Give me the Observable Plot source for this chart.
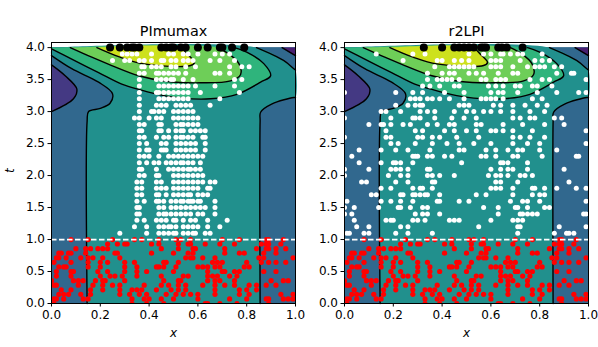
<!DOCTYPE html>
<html><head><meta charset="utf-8">
<script src="https://cdn.jsdelivr.net/npm/d3@7"></script>
<script src="https://cdn.jsdelivr.net/npm/@observablehq/plot@0.6"></script>
<style>html,body{margin:0;padding:0;background:#fff}#c{display:flex;width:598px;height:347px}svg{display:block;background:#fff;overflow:visible}</style>
</head><body><div id="c"></div>
<script>
const titles = ["PImumax", "r2LPI"];
const tickX = [0, .2, .4, .6, .8, 1];
const tickT = [0, .5, 1, 1.5, 2, 2.5, 3, 3.5, 4];
const colors = {blue:"#31688e", dark:"#443983", purple:"#481f70", teal:"#21908d", green:"#2fb47c", light:"#6ece58", yellow:"#cde11d"};

// contour lines, in x,t
const lensX = [0,.056,.104,.09,0], lensT = [3.73,3.56,3.35,3.2,3.0];
const blueLeftX = [.146,.146,.152,.2,.24,.25,.193,.083,0], blueLeftT = [0,2.85,3.0,3.05,3.13,3.28,3.46,3.67,3.875];
const blueRightX = [1,.993,.904,.857,.855,.855], blueRightT = [3.22,3.22,3.12,2.99,2.85,0];
const blueTopX = [.84,.951,.993,1], blueTopT = [4,3.8,3.67,3.65];
const cornerX = [.945,1], cornerT = [4,3.875];
const greenX = [0,.083,.193,.288,.365,.46,.53,.652,.76,.857,.898,.87,.80,.75], greenT = [3.98,3.82,3.61,3.43,3.34,3.25,3.21,3.2,3.27,3.46,3.56,3.75,3.93,4];
const lightX = [.077,.165,.247,.358,.474,.61,.734,.775,.768,.727,.68], lightT = [4,3.85,3.72,3.56,3.47,3.45,3.48,3.58,3.75,3.9,4];
const yellowX = [.186,.281,.378,.57,.586,.556,.53], yellowT = [4,3.85,3.745,3.72,3.77,3.9,4];

// boundary points at t between 0 and 1
const redT = [1,.93,.857,.786,.714,.643,.571,.5,.429,.357,.286,.214,.143,.071,0];
const redX = [
 [.08,.15,.25,.34,.37,.44,.51,.53,.57,.70,.77,.88,.89,.95],
 [.23,.27,.30,.31,.41,.44,.52,.56,.57,.63,.69,.75,.86,.88,.89,.94],
 [.10,.14,.16,.19,.21,.23,.45,.52,.58,.59,.71,.84,.88,.89,.92,.96],
 [.03,.04,.07,.08,.14,.26,.27,.41,.50,.56,.58,.71,.77,.79,.87,.92],
 [.02,.03,.06,.12,.15,.17,.21,.28,.55,.57,.58,.62,.67,.85,.87,.99],
 [.01,.08,.15,.20,.23,.30,.34,.46,.47,.52,.66,.68,.70,.80,.86,.89,.92,.96],
 [.03,.05,.06,.15,.20,.30,.35,.43,.44,.46,.51,.60,.62,.64,.67,.69,.79,.81],
 [.02,.08,.09,.19,.23,.30,.35,.39,.50,.64,.70,.71,.75,.77,.87,.92],
 [.02,.08,.20,.24,.26,.29,.35,.45,.54,.56,.64,.66,.68,.73,.76],
 [0,.09,.11,.13,.18,.21,.22,.30,.46,.52,.53,.64,.67,.69,.75,.90,.95,.97],
 [.01,.02,.11,.17,.21,.25,.28,.38,.45,.48,.52,.55,.62,.67,.71,.75,.81,.84,.88,.92],
 [.04,.08,.16,.21,.28,.33,.35,.37,.43,.49,.52,.55,.67,.77,.80,.84],
 [.03,.05,.07,.12,.16,.28,.32,.36,.39,.47,.51,.54,.57,.60,.67,.77,.81,.94,.99],
 [.01,.02,.05,.13,.15,.33,.38,.40,.45,.50,.60,.73,.80,.88,.89,.95,.97,.99],
 [.01,.33,.39,.46,.63,.64,.69,.76,.89]
];

const whiteT = [1.1,1.2,1.3,1.4,1.5,1.6,1.7,1.8,1.9,2.0,2.1,2.2,2.3,2.4,2.5,2.6,2.7,2.8,2.9,3.0,3.1,3.2,3.3,3.4,3.5,3.6,3.7,3.8,3.9];
const whiteLeftX = [
 [.28,.39,.44,.46,.48,.50,.51,.54,.56,.58,.59,.63,.65],
 [.34,.39,.44,.46,.48,.49,.51,.54,.56,.58,.60,.64,.69],
 [.35,.38,.43,.45,.47,.50,.51,.54,.57,.59,.64,.72],
 [.35,.36,.44,.46,.47,.49,.51,.53,.55,.57,.60,.62,.67],
 [.35,.36,.44,.46,.49,.51,.53,.55,.57,.59,.61,.63,.67],
 [.35,.38,.43,.44,.46,.49,.51,.53,.54,.56,.57,.58,.60,.61,.67],
 [.35,.37,.43,.44,.47,.50,.52,.54,.56,.57,.60,.62,.64],
 [.35,.37,.43,.45,.47,.50,.52,.54,.56,.58,.60,.64,.65],
 [.35,.37,.43,.45,.50,.52,.54,.56,.58,.60,.62,.65,.67],
 [.36,.38,.43,.44,.50,.52,.54,.56,.58,.60,.62],
 [.36,.37,.43,.48,.50,.52,.54,.56,.57,.59,.61],
 [.36,.39,.42,.44,.47,.49,.51,.53,.54,.56,.58,.61],
 [.36,.38,.40,.44,.48,.50,.52,.54,.56,.58,.60,.62],
 [.36,.39,.40,.45,.46,.47,.51,.53,.55,.57,.59,.63],
 [.36,.39,.45,.47,.51,.53,.55,.57,.59,.63],
 [.36,.38,.43,.46,.48,.51,.53,.54,.56,.58,.62,.63],
 [.36,.37,.44,.45,.48,.51,.53,.54,.57,.59,.61,.63],
 [.36,.38,.44,.45,.51,.53,.54,.56,.58,.60],
 [.34,.36,.40,.43,.45,.50,.52,.54,.56,.58,.60],
 [.36,.41,.42,.44,.46,.50,.52,.54,.56,.58],
 [.36,.43,.45,.47,.51,.53,.55,.57,.65],
 [.36,.44,.46,.48,.50,.52,.54,.56,.69],
 [.36,.43,.44,.46,.48,.50,.52,.54,.56,.61,.77],
 [.36,.44,.46,.48,.50,.52,.54,.56,.59,.67,.75],
 [.36,.43,.45,.47,.49,.50,.54,.58,.75,.78],
 [.36,.38,.43,.44,.46,.48,.50,.52,.55,.67,.69,.73],
 [.37,.38,.41,.43,.45,.49,.51,.55,.59,.73,.78,.81],
 [.25,.30,.32,.36,.38,.41,.45,.46,.49,.51,.54,.56,.58,.65,.69,.75],
 [.29,.31,.33,.35,.41,.48,.50,.54,.56,.60,.67,.70,.73]
];
const whiteRightX = [
 [.01,.02,.08,.10,.21,.26,.36,.71,.86,.91,.92,.94],
 [.05,.10,.23,.26,.55,.71,.72,.88,.99],
 [.04,.17,.19,.20,.28,.30,.33,.43,.45,.47,.60,.69,.71,.73],
 [0,.03,.29,.32,.34,.39,.63,.72,.73,.75,.77,.79,.98,.99],
 [0,.04,.14,.22,.23,.27,.32,.34,.57,.63,.70,.71,.75,.82,.84],
 [.01,.15,.19,.23,.28,.38,.39,.47,.51,.68,.73,.75,.80,.99],
 [.11,.13,.23,.24,.28,.29,.31,.33,.34,.39,.54,.58,.69,.77,.80,.82],
 [.15,.19,.28,.31,.32,.36,.60,.62,.64,.69,.77,.78,.82,.87,.95,.99],
 [.07,.09,.21,.26,.36,.37,.62,.64,.71,.92],
 [0,.18,.23,.26,.34,.36,.39,.45,.59,.62,.64,.67,.72,.74,.77],
 [0,.10,.19,.21,.23,.26,.34,.35,.60,.64,.67,.69,.75,.90],
 [.06,.15,.20,.21,.23,.28,.48,.64,.65,.67,.75],
 [.03,.28,.29,.30,.34,.36,.41,.44,.56,.58,.62,.69,.71,.81,.95,.96],
 [.06,.15,.21,.26,.35,.47,.49,.58,.62,.67,.71,.73,.80,.87],
 [.19,.22,.29,.36,.42,.47,.53,.60,.69,.75,.80,.99],
 [.17,.19,.30,.32,.36,.39,.46,.55,.69,.72,.76,.82,0],
 [.17,.29,.32,.41,.45,.50,.54,.60,.62,.65,.69,.77,.99],
 [.10,.15,.16,.19,.24,.27,.34,.38,.43,.45,.54,.56,.65,.73,.82,.90],
 [.19,.28,.29,.31,.37,.44,.49,.54,.69,.72,.76,.78,.86,.89,0],
 [.15,.17,.23,.31,.34,.37,.45,.50,.53,.57,.60,.64,.69,.76,.82],
 [.21,.26,.29,.31,.32,.47,.49,.51,.61,.64,.69,.74,.79,.83],
 [.27,.29,.31,.34,.36,.39,.43,.49,.56,.58,.60,.62,.65,.77,.81],
 [.21,.28,.32,.41,.49,.60,.63,.65,.71,.79,.87,.96,.99,0],
 [.32,.35,.39,.45,.47,.59,.62,.65,.70,.72,.77,.79,.85],
 [.34,.38,.40,.42,.44,.47,.56,.58,.62,.64,.66,.76,.81,.84,.99],
 [.34,.40,.43,.45,.51,.54,.57,.63,.69,.71,.87,.93,.94],
 [.37,.43,.45,.47,.49,.51,.53,.60,.62,.64,.69,.75,.78,.80,.82,.86,.89],
 [.24,.38,.40,.45,.48,.51,.60,.62,.64,.72,.78,.81,.84],
 [.13,.28,.33,.51,.57,.60,.64,.65,.68,.71,.73,.81]
];
const blackLeftX = [.24,.28,.31,.33,.34,.36,.45,.47,.49,.50,.53,.55,.60,.64,.69,.70,.74,.79];
const blackRightX = [.325,.40,.45,.47,.49,.51,.53,.56,.57,.58,.63,.645,.665,.73];

const pts = (xs, ts) => xs.map((x, i) => ({x, t: ts[i]}));
const rows = (ts, xs) => ts.flatMap((t, i) => xs[i].map(x => ({x, t})));
const lineOpts = {x:"x", y:"t", stroke:"#000", strokeWidth:1.4, curve:"catmull-rom"};
const shape = (points, fill) => Plot.line(points, {x:"x", y:"t", fill, stroke:"none", curve:"catmull-rom"});
const dup = p => [p, p, p];

function panel(k, whiteX, blackX, width, marginLeft, marginRight) {
  const L = pts(blueLeftX, blueLeftT), R = pts(blueRightX, blueRightT), Tp = pts(blueTopX, blueTopT);
  const teal = [...L, ...dup({x:0,t:4}), ...Tp, ...R];
  const green = [...pts(greenX, greenT), ...dup({x:0,t:4})];
  const light = [...pts(lightX, lightT), ...dup(pts(lightX, lightT)[0])];
  const yellow = [...pts(yellowX, yellowT), ...dup(pts(yellowX, yellowT)[0])];
  const lens = pts(lensX, lensT);
  const corner = [...pts(cornerX, cornerT), {x:1,t:4}];
  const curves = [lens, L, R, Tp, pts(cornerX, cornerT), pts(greenX, greenT), pts(lightX, lightT), pts(yellowX, yellowT)];
  return Plot.plot({
    width, height:347, marginLeft, marginRight, marginTop:42, marginBottom:44,
    style:{fontFamily:"DejaVu Sans", fontSize:"12px", background:"#fff", color:"#000", overflow:"visible"},
    x:{domain:[0,1], label:null},
    y:{domain:[0,4.08], label:null},
    marks:[
      Plot.rect([{x1:0,x2:1,t1:0,t2:4}], {x1:"x1", x2:"x2", y1:"t1", y2:"t2", fill:colors.blue}),
      shape(corner, colors.purple),
      shape(lens, colors.dark),
      shape(teal, colors.teal),
      shape(green, colors.green),
      shape(light, colors.light),
      shape(yellow, colors.yellow),
      ...curves.map(c => Plot.line(c, lineOpts)),
      Plot.dot(rows(whiteT, whiteX), {x:"x", y:"t", r:2.5, fill:"#fff", clip:true}),
      Plot.dot(rows(redT, redX), {x:"x", y:"t", r:2.6, fill:"#f00", clip:true}),
      Plot.ruleY([1], {stroke:"#fff", strokeWidth:1.8, strokeDasharray:"5.5,2.5"}),
      Plot.dot(blackX.map(x => ({x, t:4})), {x:"x", y:"t", r:4, fill:"#000"}),
      Plot.frame({stroke:"#000", strokeWidth:1}),
      Plot.axisX(tickX, {tickFormat:d3.format(".1f"), tickSize:3.5, tickPadding:3, label:null, fontSize:12}),
      Plot.axisY(tickT, {tickFormat:d3.format(".1f"), tickSize:3.5, tickPadding:3, label:null, fontSize:12}),
      Plot.text([titles[k]], {frameAnchor:"top", dy:-11, fontSize:14.4, textAnchor:"middle", lineAnchor:"middle"}),
      Plot.text(["x"], {frameAnchor:"bottom", dy:30, fontSize:12, fontStyle:"italic", lineAnchor:"middle"}),
      ...(k === 0 ? [Plot.text(["t"], {frameAnchor:"left", dx:-41, fontSize:12, fontStyle:"italic", rotate:-90, lineAnchor:"middle"})] : [])
    ]
  });
}
const c = document.getElementById("c");
c.append(panel(0, whiteLeftX, blackLeftX, 310, 51, 15));
c.append(panel(1, whiteRightX, blackRightX, 288, 34, 10));
</script></body></html>
